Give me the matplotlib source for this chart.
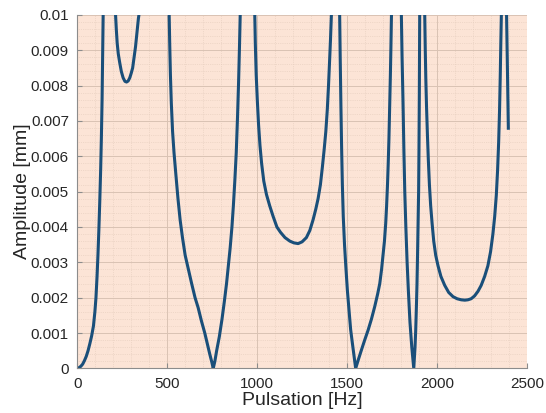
import matplotlib
matplotlib.use("Agg")
import matplotlib.pyplot as plt
from matplotlib.ticker import MultipleLocator

# branches of the response curve (Hz, mm)
f1 = [0, 10, 20, 30, 40, 50, 60, 70, 80, 90, 98, 104, 110, 115, 120, 125, 130, 134, 138, 141, 144]
a1 = [0, 0.00002, 0.00006, 0.00012, 0.00022, 0.00034, 0.0005, 0.0007, 0.00092, 0.0012, 0.0016,
      0.002, 0.0026, 0.0032, 0.0039, 0.0047, 0.0056, 0.0065, 0.0076, 0.0088, 0.0100]

f2 = [213, 217, 222, 228, 236, 245, 255, 265, 274, 283, 292, 300, 308, 316, 324, 332, 340, 343]
a2 = [0.0100, 0.0096, 0.0092, 0.0089, 0.00865, 0.0084, 0.00822, 0.00812, 0.0081, 0.00813,
      0.00822, 0.00835, 0.0085, 0.0088, 0.0091, 0.0095, 0.0099, 0.0100]

f3 = [511, 514, 518, 523, 530, 538, 548, 560, 572, 585, 600, 618, 636, 655, 672, 690, 709, 723,
      737, 748, 756, 765, 775, 790, 805, 818, 830, 840, 850, 860, 868, 876, 884, 891, 897, 902, 906]
a3 = [0.0100, 0.0092, 0.0083, 0.0075, 0.0067, 0.0061, 0.0055, 0.0048, 0.0042, 0.0037, 0.0032,
      0.0028, 0.0024, 0.0020, 0.00172, 0.00135, 0.0010, 0.0007, 0.0004, 0.00018, 0.0, 0.0002,
      0.0005, 0.0009, 0.0014, 0.0019, 0.0024, 0.0029, 0.0034, 0.0040, 0.0046, 0.0053, 0.0061,
      0.0071, 0.0081, 0.0091, 0.0100]

f4 = [987, 990, 995, 1001, 1008, 1016, 1025, 1037, 1052, 1070, 1089, 1110, 1130, 1155, 1182, 1205,
      1228, 1250, 1274, 1293, 1311, 1326, 1339, 1352, 1363, 1373, 1382, 1390, 1397, 1403, 1408, 1413]
a4 = [0.0100, 0.0092, 0.0083, 0.0076, 0.0069, 0.0063, 0.0058, 0.0053, 0.00492, 0.0046, 0.0043,
      0.0040, 0.00385, 0.0037, 0.0036, 0.00355, 0.00353, 0.00358, 0.0037, 0.0039, 0.0042, 0.0045,
      0.0048, 0.0052, 0.0057, 0.0062, 0.0067, 0.0073, 0.0080, 0.0087, 0.0093, 0.0100]

f5 = [1459, 1462, 1466, 1470, 1474, 1479, 1486, 1493, 1502, 1511, 1520, 1530, 1539, 1548, 1563,
      1580, 1598, 1617, 1636, 1654, 1670, 1682, 1692, 1700, 1708, 1715, 1720, 1725, 1729, 1733,
      1737, 1741, 1744, 1747]
a5 = [0.0100, 0.0088, 0.0074, 0.0062, 0.0052, 0.0043, 0.0035, 0.0029, 0.0022, 0.00165, 0.0011,
      0.0007, 0.00035, 0.0, 0.00025, 0.00052, 0.0008, 0.00108, 0.0014, 0.00175, 0.0021, 0.0024,
      0.0028, 0.0032, 0.0036, 0.0041, 0.0046, 0.0052, 0.0058, 0.0065, 0.0074, 0.0083, 0.0091, 0.0100]

f6 = [1802, 1806, 1811, 1816, 1821, 1827, 1834, 1841, 1850, 1860, 1871, 1878, 1882, 1886, 1889,
      1892, 1894, 1896, 1898, 1900, 1902, 1904]
a6 = [0.0100, 0.0088, 0.0076, 0.0062, 0.0050, 0.0040, 0.0030, 0.0022, 0.0013, 0.0006, 0.0, 0.0006,
      0.0011, 0.0018, 0.0024, 0.0032, 0.0038, 0.0044, 0.0050, 0.0062, 0.0078, 0.0100]

f7 = [1932, 1935, 1938, 1942, 1947, 1952, 1958, 1965, 1973, 1982, 1993, 2006, 2022, 2043, 2065,
      2089, 2112, 2135, 2155, 2172, 2190, 2209, 2228, 2246, 2265, 2283, 2298, 2311, 2321, 2330,
      2337, 2343, 2348, 2352, 2355, 2358]
a7 = [0.0100, 0.0090, 0.0082, 0.0074, 0.0066, 0.0059, 0.0052, 0.0046, 0.0041, 0.0036, 0.0032,
      0.0029, 0.0026, 0.00235, 0.00215, 0.00203, 0.00197, 0.00194, 0.00193, 0.00194, 0.00197,
      0.00205, 0.00218, 0.00235, 0.0026, 0.0029, 0.0033, 0.0038, 0.0043, 0.0049, 0.0056, 0.0064,
      0.0073, 0.0083, 0.0092, 0.0100]

f8 = [2387, 2392, 2397]
a8 = [0.0100, 0.0084, 0.00675]

branches = [(f1, a1), (f2, a2), (f3, a3), (f4, a4), (f5, a5), (f6, a6), (f7, a7), (f8, a8)]

x_ticks = [0, 500, 1000, 1500, 2000, 2500]
y_ticks = [0, 0.001, 0.002, 0.003, 0.004, 0.005, 0.006, 0.007, 0.008, 0.009, 0.01]
y_labels = ['0', '0.001', '0.002', '0.003', '0.004', '0.005', '0.006', '0.007', '0.008', '0.009', '0.01']

plt.rcParams['font.family'] = ['Liberation Sans', 'DejaVu Sans']

fig = plt.figure(figsize=(5.46, 4.13), dpi=100)
ax = fig.add_axes([0.1415, 0.108, 0.8235, 0.856])
ax.set_facecolor('#fce4d6')

for f, a in branches:
    ax.plot(f, a, color='#1a4f7a', lw=2.2, solid_capstyle='butt', solid_joinstyle='round')

ax.set_xlim(0, 2500)
ax.set_ylim(0, 0.01)
ax.set_xticks(x_ticks)
ax.set_yticks(y_ticks)
ax.set_yticklabels(y_labels)
ax.xaxis.set_minor_locator(MultipleLocator(100))
ax.yaxis.set_minor_locator(MultipleLocator(0.0002))

ax.grid(which='major', color='#d9c2b3', lw=0.7)
ax.grid(which='minor', color='#e3cbbb', lw=0.5, linestyle=':')
ax.set_axisbelow(True)

for s in ['top', 'right']:
    ax.spines[s].set_visible(False)
for s in ['left', 'bottom']:
    ax.spines[s].set_color('#8c8c8c')
    ax.spines[s].set_linewidth(0.8)

ax.tick_params(which='major', direction='in', length=3.5, color='#8c8c8c',
               labelsize=11, labelcolor='#262626', pad=6)
ax.tick_params(which='minor', length=0)

ax.set_xlabel('Pulsation [Hz]', fontsize=14, color='#262626', labelpad=1)
ax.set_ylabel('Amplitude [mm]', fontsize=14, color='#262626', labelpad=0)

fig.savefig('out.png', dpi=100)
